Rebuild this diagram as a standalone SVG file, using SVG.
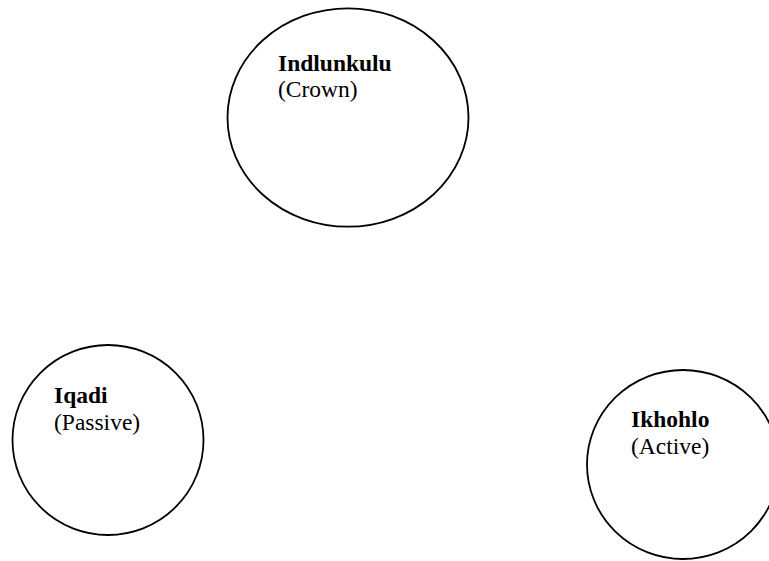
<svg xmlns="http://www.w3.org/2000/svg" width="769" height="561" viewBox="0 0 769 561">
<style>
.node{fill:#fff;stroke:#000;stroke-width:1.8}
.t{font-family:"Liberation Serif","Times New Roman",serif;font-size:23.5px;fill:#000}
.b{font-weight:bold}
</style>
<rect width="769" height="561" fill="#fff"/>
<g id="connectors"/>
<g id="crown">
<ellipse class="node" cx="348" cy="117.5" rx="120.5" ry="109.2"/>
<text class="t b" x="278" y="71">Indlunkulu</text>
<text class="t" x="278" y="97.3">(Crown)</text>
</g>
<g id="iqadi">
<ellipse class="node" cx="108" cy="440" rx="95.5" ry="95"/>
<text class="t b" x="54" y="403.3">Iqadi</text>
<text class="t" x="54" y="429.5">(Passive)</text>
</g>
<g id="ikhohlo">
<ellipse class="node" cx="683" cy="464.5" rx="96" ry="94.5"/>
<text class="t b" x="631" y="426.7">Ikhohlo</text>
<text class="t" x="631" y="453.5">(Active)</text>
</g>
</svg>
